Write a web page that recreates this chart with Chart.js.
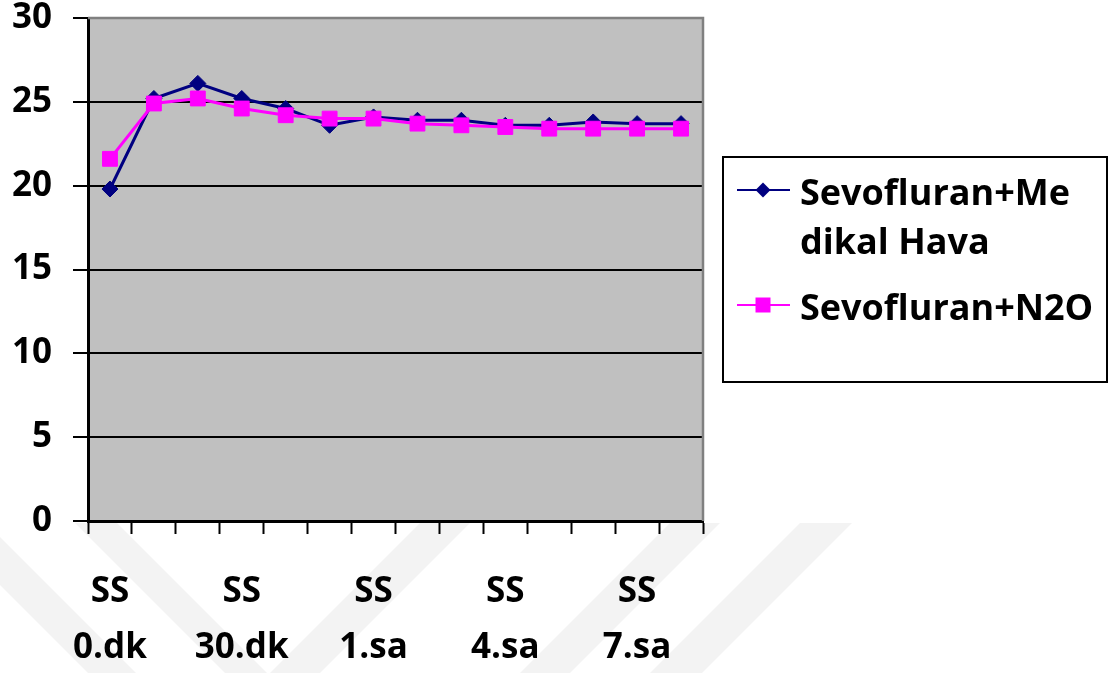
<!DOCTYPE html>
<html>
<head>
<meta charset="utf-8">
<title>Sevofluran</title>
<script src="https://cdn.jsdelivr.net/npm/chart.js@4/dist/chart.umd.min.js"></script>
<style>
  html, body { margin: 0; padding: 0; background: #ffffff; }
  canvas { display: block; }
</style>
</head>
<body>
<canvas id="chart" width="1117" height="673"></canvas>
<script>
// Measurement times (only every third one is labelled on the axis)
const categories = [
  'SS 0.dk', 'SS 10.dk', 'SS 20.dk', 'SS 30.dk', 'SS 40.dk', 'SS 50.dk',
  'SS 1.sa', 'SS 2.sa', 'SS 3.sa', 'SS 4.sa', 'SS 5.sa', 'SS 6.sa',
  'SS 7.sa', 'SS 8.sa'
];
const seriesNames = ['Sevofluran+Medikal Hava', 'Sevofluran+N2O'];
// Legend text as it is broken across lines in the box
const legendLabels = [['Sevofluran+Me', 'dikal Hava'], ['Sevofluran+N2O']];
const medikalHava = [19.8, 25.2, 26.1, 25.2, 24.6, 23.6, 24.1, 23.9, 23.9, 23.6, 23.6, 23.8, 23.7, 23.7];
const n2o = [21.6, 24.9, 25.2, 24.6, 24.2, 24.0, 24.0, 23.7, 23.6, 23.5, 23.4, 23.4, 23.4, 23.4];
const yTicks = [0, 5, 10, 15, 20, 25, 30];

const FONT = '"Open Sans", "DejaVu Sans", sans-serif';

// Page background, faint diagonal watermark bands and the grey plot area
const backdrop = {
  id: 'backdrop',
  beforeDraw(chart) {
    const ctx = chart.ctx;
    const a = chart.chartArea;
    ctx.save();
    ctx.fillStyle = '#ffffff';
    ctx.fillRect(0, 0, chart.width, chart.height);

    ctx.beginPath();
    ctx.rect(0, a.bottom + 2, 880, chart.height - a.bottom);
    ctx.clip();
    ctx.fillStyle = '#f3f3f3';
    const top = a.bottom + 2, bot = chart.height, h = bot - top;
    const down = [[-62, -14], [75, 117]];            // bands running down to the right
    const up = [[420, 470], [670, 720], [800, 852]]; // bands running down to the left
    down.forEach(([x0, x1]) => {
      ctx.beginPath();
      ctx.moveTo(x0, top); ctx.lineTo(x1, top);
      ctx.lineTo(x1 + h, bot); ctx.lineTo(x0 + h, bot);
      ctx.closePath(); ctx.fill();
    });
    up.forEach(([x0, x1]) => {
      ctx.beginPath();
      ctx.moveTo(x0, top); ctx.lineTo(x1, top);
      ctx.lineTo(x1 - h, bot); ctx.lineTo(x0 - h, bot);
      ctx.closePath(); ctx.fill();
    });
    ctx.restore();

    ctx.save();
    ctx.fillStyle = '#c0c0c0';
    ctx.fillRect(a.left, a.top, a.right - a.left, a.bottom - a.top);
    ctx.restore();
  }
};

// Grey frame along the top and right of the plot area
const plotFrame = {
  id: 'plotFrame',
  beforeDatasetsDraw(chart) {
    const ctx = chart.ctx;
    const a = chart.chartArea;
    ctx.save();
    ctx.strokeStyle = '#808080';
    ctx.lineWidth = 2.5;
    ctx.beginPath();
    ctx.moveTo(a.left, a.top);
    ctx.lineTo(a.right, a.top);
    ctx.lineTo(a.right, a.bottom);
    ctx.stroke();
    ctx.restore();
  }
};

// Boxed legend on the right
const boxedLegend = {
  id: 'boxedLegend',
  afterDraw(chart) {
    const ctx = chart.ctx;
    const box = { x: 723, y: 157, w: 384, h: 225 };
    ctx.save();
    ctx.fillStyle = '#ffffff';
    ctx.fillRect(box.x, box.y, box.w, box.h);
    ctx.strokeStyle = '#000000';
    ctx.lineWidth = 2;
    ctx.strokeRect(box.x, box.y, box.w, box.h);

    ctx.font = 'bold 36px ' + FONT;
    ctx.textAlign = 'left';
    ctx.textBaseline = 'alphabetic';

    const textX = 800, lineGap = 49;
    let y = box.y + 33;
    chart.data.datasets.forEach((ds, di) => {
      const mx = 763;
      ctx.strokeStyle = ds.borderColor;
      ctx.lineWidth = 2;
      ctx.beginPath();
      ctx.moveTo(737, y);
      ctx.lineTo(790, y);
      ctx.stroke();
      ctx.fillStyle = ds.backgroundColor;
      ctx.beginPath();
      if (ds.pointStyle === 'rectRot') {
        const r = 7.5;
        ctx.moveTo(mx, y - r); ctx.lineTo(mx + r, y);
        ctx.lineTo(mx, y + r); ctx.lineTo(mx - r, y);
        ctx.closePath();
      } else {
        ctx.rect(mx - 7.5, y - 7.5, 15, 15);
      }
      ctx.fill();

      ctx.fillStyle = '#000000';
      const lines = legendLabels[di];
      lines.forEach((ln, i) => ctx.fillText(ln, textX, y + 15 + i * lineGap));
      y += lines.length * lineGap + 17;
    });
    ctx.restore();
  }
};

new Chart(document.getElementById('chart'), {
  type: 'line',
  data: {
    labels: categories,
    datasets: [
      {
        label: seriesNames[0],
        data: medikalHava,
        borderColor: '#000080',
        backgroundColor: '#000080',
        borderWidth: 3,
        pointStyle: 'rectRot',
        pointRadius: 8,
        pointBorderWidth: 1,
        tension: 0,
        order: 2
      },
      {
        label: seriesNames[1],
        data: n2o,
        borderColor: '#ff00ff',
        backgroundColor: '#ff00ff',
        borderWidth: 3,
        pointStyle: 'rect',
        pointRadius: 10.5,
        pointBorderWidth: 1,
        tension: 0,
        order: 1
      }
    ]
  },
  options: {
    responsive: false,
    animation: false,
    events: [],
    layout: { padding: { left: 0, top: 18, right: 414, bottom: 0 } },
    plugins: {
      legend: { display: false },
      tooltip: { enabled: false },
      title: { display: false }
    },
    scales: {
      x: {
        type: 'category',
        offset: true,
        afterFit(scale) { scale.height = 152; },
        grid: {
          offset: true,
          drawOnChartArea: false,
          drawTicks: true,
          tickLength: 13,
          tickWidth: 2,
          tickColor: '#000000'
        },
        border: { display: true, color: '#000000', width: 3 },
        ticks: {
          autoSkip: false,
          maxRotation: 0,
          minRotation: 0,
          padding: 30,
          color: '#000000',
          font: { family: FONT, size: 35, weight: 'bold', lineHeight: 1.6 },
          callback(value, index) {
            return index % 3 === 0 ? this.getLabelForValue(value).split(' ') : '';
          }
        }
      },
      y: {
        min: yTicks[0],
        max: yTicks[yTicks.length - 1],
        afterFit(scale) {
          scale.width = 88;
          scale.paddingTop = 18;
          scale.paddingBottom = 18;
        },
        afterBuildTicks(scale) { scale.ticks = yTicks.map(v => ({ value: v })); },
        grid: {
          color: (c) => (c.tick && c.tick.value === yTicks[yTicks.length - 1]) ? 'rgba(0,0,0,0)' : '#000000',
          lineWidth: 2,
          drawTicks: true,
          tickLength: 15,
          tickWidth: 2,
          tickColor: '#000000'
        },
        border: { display: true, color: '#000000', width: 3 },
        ticks: {
          padding: 21,
          color: '#000000',
          font: { family: FONT, size: 35, weight: 'bold', lineHeight: 1.03 }
        }
      }
    }
  },
  plugins: [backdrop, plotFrame, boxedLegend]
});
</script>
</body>
</html>
